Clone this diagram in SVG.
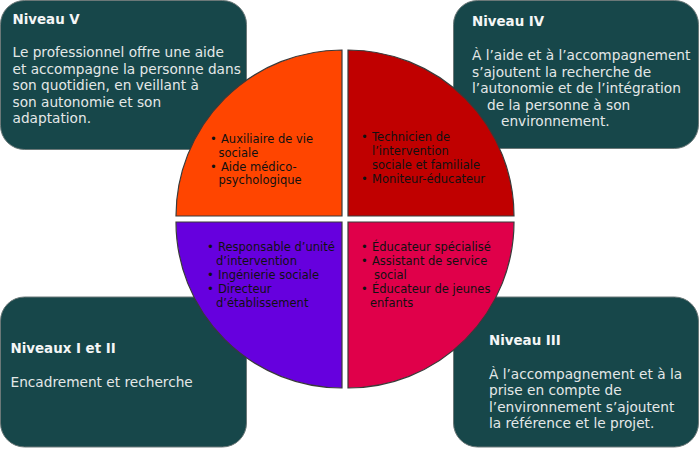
<svg xmlns="http://www.w3.org/2000/svg" width="700" height="458" viewBox="0 0 700 458">
<style>
.box{fill:#17474a;stroke:#6b7878;stroke-width:1}
.q{stroke:#3a3a3a;stroke-width:1.2}
.t{font-family:"DejaVu Sans",Verdana,sans-serif;font-size:13.7px;fill:#e4e8e8}
.h{font-family:"DejaVu Sans",Verdana,sans-serif;font-size:13.4px;font-weight:bold;fill:#f4f6f6}
.l{font-family:"DejaVu Sans",Verdana,sans-serif;font-size:11.5px;fill:#111}
</style>
<rect width="700" height="458" fill="#fff"/>
<g id="niveau-v">
<rect class="box" x="0.5" y="0.5" width="246" height="149" rx="24"/>
<text class="h" x="12.5" y="23.5">Niveau V</text>
<text class="t" x="12.5" y="57">Le professionnel offre une aide</text>
<text class="t" x="12.5" y="73.5">et accompagne la personne dans</text>
<text class="t" x="12.5" y="90">son quotidien, en veillant à</text>
<text class="t" x="12.5" y="106.5">son autonomie et son</text>
<text class="t" x="12.5" y="123">adaptation.</text>
</g>
<g id="niveau-iv">
<rect class="box" x="453.5" y="0.5" width="245" height="148" rx="24"/>
<text class="h" x="472" y="26">Niveau IV</text>
<text class="t" x="472" y="60">À l’aide et à l’accompagnement</text>
<text class="t" x="472" y="76.5">s’ajoutent la recherche de</text>
<text class="t" x="472" y="93">l’autonomie et de l’intégration</text>
<text class="t" x="487" y="109.5">de la personne à son</text>
<text class="t" x="501" y="126">environnement.</text>
</g>
<g id="niveaux-i-ii">
<rect class="box" x="0.5" y="297" width="246" height="150" rx="24"/>
<text class="h" x="10.5" y="353">Niveaux I et II</text>
<text class="t" x="10.5" y="387">Encadrement et recherche</text>
</g>
<g id="niveau-iii">
<rect class="box" x="453.5" y="297" width="245" height="150" rx="24"/>
<text class="h" x="489" y="345">Niveau III</text>
<text class="t" x="489" y="378.5">À l’accompagnement et à la</text>
<text class="t" x="489" y="395">prise en compte de</text>
<text class="t" x="489" y="411.5">l’environnement s’ajoutent</text>
<text class="t" x="489" y="428">la référence et le projet.</text>
</g>
<g id="quadrant-v">
<path class="q" fill="#ff4500" d="M342,216 L176,216 A166,166 0 0 1 342,50 Z"/>
<text class="l" x="210" y="143">•</text><text class="l" x="221" y="143">Auxiliaire de vie</text>
<text class="l" x="218.5" y="157">sociale</text>
<text class="l" x="210" y="171">•</text><text class="l" x="221" y="171">Aide médico-</text>
<text class="l" x="218.5" y="184">psychologique</text>
</g>
<g id="quadrant-iv">
<path class="q" fill="#c00000" d="M348,216 L348,50 A166,166 0 0 1 514,216 Z"/>
<text class="l" x="361" y="141">•</text><text class="l" x="372" y="141">Technicien de</text>
<text class="l" x="372" y="155">l’intervention</text>
<text class="l" x="372" y="169">sociale et familiale</text>
<text class="l" x="361" y="183">•</text><text class="l" x="372" y="183">Moniteur-éducateur</text>
</g>
<g id="quadrant-i-ii">
<path class="q" fill="#6600de" d="M342,222 L342,388 A166,166 0 0 1 176,222 Z"/>
<text class="l" x="207" y="251">•</text><text class="l" x="218" y="251">Responsable d’unité</text>
<text class="l" x="216" y="265">d’intervention</text>
<text class="l" x="207" y="279">•</text><text class="l" x="218" y="279">Ingénierie sociale</text>
<text class="l" x="207" y="293">•</text><text class="l" x="218" y="293">Directeur</text>
<text class="l" x="216" y="307">d’établissement</text>
</g>
<g id="quadrant-iii">
<path class="q" fill="#e0004a" d="M348,222 L514,222 A166,166 0 0 1 348,388 Z"/>
<text class="l" x="361" y="251">•</text><text class="l" x="372" y="251">Éducateur spécialisé</text>
<text class="l" x="361" y="265">•</text><text class="l" x="372" y="265">Assistant de service</text>
<text class="l" x="374" y="279">social</text>
<text class="l" x="361" y="293">•</text><text class="l" x="372" y="293">Éducateur de jeunes</text>
<text class="l" x="370" y="307">enfants</text>
</g>
<g id="connectors"></g>
</svg>
